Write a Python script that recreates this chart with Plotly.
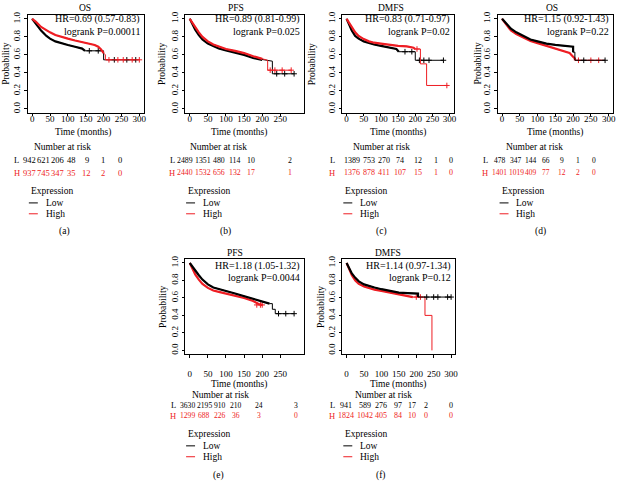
"""六联 Kaplan-Meier 生存曲线（OS / PFS / DMFS，Low 与 High 表达组）"""
import plotly.graph_objects as go

W, H = 618, 481
RED = "#EE1D23"
FONT = "Liberation Serif"

# ── 数据 ──
# (a) OS
a_low_t = [0, 10, 25, 40, 50, 65, 80, 100, 120, 140, 148, 175, 200, 200, 290]
a_low_s = [1.0, 0.95, 0.87, 0.81, 0.78, 0.75, 0.73, 0.71, 0.69, 0.67, 0.645, 0.645, 0.645, 0.545, 0.545]
a_high_t = [0, 10, 25, 40, 50, 65, 80, 100, 120, 140, 160, 175, 185, 193, 200, 205, 205, 300]
a_high_s = [1.0, 0.97, 0.91, 0.87, 0.85, 0.82, 0.80, 0.78, 0.76, 0.74, 0.72, 0.71, 0.69, 0.66, 0.62, 0.60, 0.545, 0.545]
a_low_cens_t = [160, 185, 230, 265, 290]
a_low_cens_s = [0.645, 0.645, 0.545, 0.545, 0.545]
a_high_cens_t = [215, 240, 255, 280, 300]
a_high_cens_s = [0.545, 0.545, 0.545, 0.545, 0.545]
a_risk_low = [942, 621, 206, 48, 9, 1, 0]
a_risk_high = [937, 745, 347, 35, 12, 2, 0]

# (b) PFS
b_low_t = [0, 5, 15, 25, 35, 50, 65, 80, 100, 125, 150, 175, 200, 228, 228, 288]
b_low_s = [1.0, 0.96, 0.88, 0.82, 0.77, 0.725, 0.695, 0.67, 0.65, 0.625, 0.60, 0.565, 0.545, 0.53, 0.39, 0.39]
b_high_t = [0, 5, 15, 25, 35, 50, 65, 80, 100, 125, 150, 175, 200, 215, 215, 280]
b_high_s = [1.0, 0.97, 0.90, 0.85, 0.80, 0.75, 0.715, 0.69, 0.665, 0.645, 0.62, 0.585, 0.555, 0.54, 0.43, 0.43]
b_low_cens_t = [240, 262, 288]
b_low_cens_s = [0.39, 0.39, 0.39]
b_high_cens_t = [222, 235, 255, 280]
b_high_cens_s = [0.43, 0.43, 0.43, 0.43]
b_risk_low = [2489, 1351, 480, 114, 10, 2]
b_risk_high = [2440, 1532, 656, 132, 17, 1]

# (c) DMFS
c_low_t = [0, 5, 15, 25, 35, 50, 65, 80, 100, 125, 145, 152, 200, 200, 282]
c_low_s = [1.0, 0.96, 0.87, 0.81, 0.78, 0.75, 0.73, 0.715, 0.70, 0.685, 0.665, 0.635, 0.635, 0.54, 0.54]
c_high_t = [0, 5, 15, 25, 35, 50, 65, 80, 100, 125, 150, 175, 195, 200, 215, 215, 233, 233, 292]
c_high_s = [1.0, 0.97, 0.90, 0.85, 0.81, 0.775, 0.75, 0.735, 0.725, 0.71, 0.70, 0.695, 0.68, 0.665, 0.665, 0.50, 0.50, 0.26, 0.26]
c_low_cens_t = [170, 190, 212, 225, 240, 282]
c_low_cens_s = [0.635, 0.635, 0.54, 0.54, 0.54, 0.54]
c_high_cens_t = [205, 292]
c_high_cens_s = [0.665, 0.26]
c_risk_low = [1389, 753, 270, 74, 12, 1, 0]
c_risk_high = [1376, 878, 411, 107, 15, 1, 0]

# (d) OS
d_low_t = [0, 10, 25, 40, 50, 65, 80, 100, 125, 150, 175, 195, 200, 200, 205, 205, 290]
d_low_s = [1.0, 0.96, 0.89, 0.85, 0.83, 0.80, 0.77, 0.75, 0.725, 0.71, 0.70, 0.69, 0.69, 0.63, 0.63, 0.54, 0.54]
d_high_t = [0, 10, 25, 40, 50, 65, 80, 100, 125, 150, 160, 175, 190, 200, 205, 205, 290]
d_high_s = [1.0, 0.95, 0.87, 0.83, 0.81, 0.78, 0.755, 0.73, 0.70, 0.675, 0.655, 0.64, 0.62, 0.58, 0.56, 0.54, 0.54]
d_low_cens_t = [230, 290]
d_low_cens_s = [0.54, 0.54]
d_high_cens_t = [215, 250, 272]
d_high_cens_s = [0.54, 0.54, 0.54]
d_risk_low = [478, 347, 144, 66, 9, 1, 0]
d_risk_high = [1401, 1019, 409, 77, 12, 2, 0]

# (e) PFS
e_low_t = [0, 5, 15, 25, 35, 50, 65, 80, 100, 125, 150, 175, 200, 220, 228, 228, 236, 236, 288]
e_low_s = [1.0, 0.97, 0.91, 0.86, 0.81, 0.755, 0.72, 0.70, 0.68, 0.65, 0.62, 0.595, 0.565, 0.535, 0.535, 0.47, 0.47, 0.42, 0.42]
e_high_t = [0, 5, 15, 25, 35, 50, 65, 80, 100, 125, 150, 175, 190, 200]
e_high_s = [1.0, 0.96, 0.87, 0.81, 0.76, 0.715, 0.685, 0.67, 0.65, 0.625, 0.60, 0.565, 0.53, 0.52]
e_low_cens_t = [245, 265, 288]
e_low_cens_s = [0.42, 0.42, 0.42]
e_high_cens_t = [185, 195, 200]
e_high_cens_s = [0.52, 0.52, 0.52]
e_risk_low = [3630, 2195, 910, 210, 24, 3]
e_risk_high = [1299, 688, 226, 36, 3, 0]

# (f) DMFS
f_low_t = [0, 5, 15, 25, 35, 50, 65, 80, 100, 125, 150, 175, 205, 205, 300]
f_low_s = [1.0, 0.96, 0.88, 0.83, 0.79, 0.755, 0.735, 0.72, 0.70, 0.68, 0.66, 0.655, 0.65, 0.61, 0.61]
f_high_t = [0, 5, 15, 25, 35, 50, 65, 80, 100, 125, 150, 175, 190, 225, 225, 245, 245]
f_high_s = [1.0, 0.95, 0.86, 0.80, 0.76, 0.73, 0.71, 0.695, 0.68, 0.66, 0.635, 0.62, 0.61, 0.61, 0.40, 0.40, 0.0]
f_low_cens_t = [230, 250, 262, 290, 300]
f_low_cens_s = [0.61, 0.61, 0.61, 0.61, 0.61]
f_high_cens_t = [200, 212]
f_high_cens_s = [0.61, 0.61]
f_risk_low = [941, 589, 276, 97, 17, 2, 0]
f_risk_high = [1824, 1042, 405, 84, 10, 0, 0]

titles = ["OS", "PFS", "DMFS", "OS", "PFS", "DMFS"]
hr_texts = ["HR=0.69 (0.57-0.83)", "HR=0.89 (0.81-0.99)", "HR=0.83 (0.71-0.97)",
            "HR=1.15 (0.92-1.43)", "HR=1.18 (1.05-1.32)", "HR=1.14 (0.97-1.34)"]
p_texts = ["logrank P=0.00011", "logrank P=0.025", "logrank P=0.02",
           "logrank P=0.22", "logrank P=0.0044", "logrank P=0.12"]
panel_tags = ["(a)", "(b)", "(c)", "(d)", "(e)", "(f)"]
x_ticks_300 = [0, 50, 100, 150, 200, 250, 300]
x_ticks_250 = [0, 50, 100, 150, 200, 250]
y_ticks = [0, 0.2, 0.4, 0.6, 0.8, 1.0]

# ── 版式（像素） ──
# x0: t=0 处像素, sx: 每月像素, xmax: 轴右端, row: 0 上排 / 1 下排
panels = [
    dict(curves=(a_low_t, a_low_s, a_high_t, a_high_s), cens=(a_low_cens_t, a_low_cens_s, a_high_cens_t, a_high_cens_s),
         risk=(a_risk_low, a_risk_high), ticks=x_ticks_300, x0=32.3, sx=0.359, xmax=312, row=0,
         dense=(148, 200), red_top=True, title_x=85, ylab_x=6, time_x=83, nar_x=63, letter_x=17,
         cols=[30, 44, 58, 72, 87, 103, 121], risk_size=8.5, leg_x=29, tag_x=65),
    dict(curves=(b_low_t, b_low_s, b_high_t, b_high_s), cens=(b_low_cens_t, b_low_cens_s, b_high_cens_t, b_high_cens_s),
         risk=(b_risk_low, b_risk_high), ticks=x_ticks_250, x0=190.7, sx=0.364, xmax=316, row=0,
         dense=(215, 212), red_top=True, title_x=237, ylab_x=163, time_x=240, nar_x=220, letter_x=173,
         cols=[186, 204, 220, 236, 252, 291], risk_size=7.8, leg_x=187, tag_x=227),
    dict(curves=(c_low_t, c_low_s, c_high_t, c_high_s), cens=(c_low_cens_t, c_low_cens_s, c_high_cens_t, c_high_cens_s),
         risk=(c_risk_low, c_risk_high), ticks=x_ticks_300, x0=348.3, sx=0.345, xmax=312, row=0,
         dense=(152, 200), red_top=True, title_x=393, ylab_x=313, time_x=400, nar_x=383, letter_x=334,
         cols=[354, 371, 386, 402, 420, 438, 453], risk_size=8, leg_x=345, tag_x=383),
    dict(curves=(d_low_t, d_low_s, d_high_t, d_high_s), cens=(d_low_cens_t, d_low_cens_s, d_high_cens_t, d_high_cens_s),
         risk=(d_risk_low, d_risk_high), ticks=x_ticks_300, x0=504.5, sx=0.357, xmax=312, row=0,
         dense=(200, 205), red_top=False, title_x=555, ylab_x=480, time_x=558, nar_x=537, letter_x=487.5,
         cols=[502, 519, 534, 549, 565, 581, 597], risk_size=7.5, leg_x=502, tag_x=543),
    dict(curves=(e_low_t, e_low_s, e_high_t, e_high_s), cens=(e_low_cens_t, e_low_cens_s, e_high_cens_t, e_high_cens_s),
         risk=(e_risk_low, e_risk_high), ticks=x_ticks_250, x0=190.7, sx=0.364, xmax=316, row=1,
         dense=(225, 200), red_top=False, title_x=236, ylab_x=163, time_x=240, nar_x=222, letter_x=174,
         cols=[188, 205, 221, 237, 260, 297], risk_size=7.6, leg_x=187, tag_x=220),
    dict(curves=(f_low_t, f_low_s, f_high_t, f_high_s), cens=(f_low_cens_t, f_low_cens_s, f_high_cens_t, f_high_cens_s),
         risk=(f_risk_low, f_risk_high), ticks=x_ticks_300, x0=348.3, sx=0.35, xmax=312, row=1,
         dense=(205, 190), red_top=False, title_x=390, ylab_x=322, time_x=400, nar_x=385, letter_x=334,
         cols=[348, 367, 383, 400, 414, 428, 453], risk_size=8, leg_x=345, tag_x=383),
]

# 每排的纵向位置：y=1.0 / y=0.0 像素，以及各行文字
rows = [
    dict(y1=15.0, y0=106.0, standoff=-5, title_y=4, hr_y=15.5, p_y=28, time_y=130, nar_y=144,
         low_y=158, high_y=170.5, exp_y=189, leg_low=201, leg_high=212, tag_y=230),
    dict(y1=261.7, y0=350.0, standoff=8, title_y=251.5, hr_y=264.5, p_y=276, time_y=385, nar_y=395.5,
         low_y=405.5, high_y=416, exp_y=434.5, leg_low=446.5, leg_high=457.5, tag_y=476),
]


def px(x):
    return x / W


def py(y):
    return 1 - y / H


fig = go.Figure()
annotations = []
shapes = []


def text(x, y, s, size=9.5, color="black", anchor="center"):
    annotations.append(dict(
        x=px(x), y=py(y), xref="paper", yref="paper", text=s, showarrow=False,
        xanchor=anchor, yanchor="middle", font=dict(family=FONT, size=size, color=color),
    ))


for i, p in enumerate(panels):
    n = "" if i == 0 else str(i + 1)
    r = rows[p["row"]]
    xa, ya = f"x{n}", f"y{n}"

    # ── 坐标轴 ──
    sy = r["y0"] - r["y1"]
    ytop = r["y1"] - 0.04 * sy
    ybot = r["y0"] + 0.04 * sy
    xl = p["x0"] - 12 * p["sx"]
    xr = p["x0"] + p["xmax"] * p["sx"]
    axis_style = dict(
        showline=True, mirror=True, linecolor="black", linewidth=0.8,
        ticks="outside", ticklen=3, tickwidth=0.8, tickcolor="black",
        showgrid=False, zeroline=False,
        tickfont=dict(family=FONT, size=9, color="black"),
    )
    fig.layout[f"xaxis{n}"] = dict(
        domain=[px(xl), px(xr)], range=[-12, p["xmax"]], anchor=ya,
        tickvals=p["ticks"], ticklabelstandoff=r["standoff"], **axis_style,
    )
    fig.layout[f"yaxis{n}"] = dict(
        domain=[py(ybot), py(ytop)], range=[-0.04, 1.04], anchor=xa,
        tickvals=y_ticks, ticktext=[f"{v:.1f}" for v in y_ticks], tickangle=-90,
        **axis_style,
    )

    # ── 生存曲线 ──
    lt, ls, ht, hs = p["curves"]
    lct, lcs, hct, hcs = p["cens"]
    groups = [(lt, ls, lct, lcs, "black", p["dense"][0]), (ht, hs, hct, hcs, RED, p["dense"][1])]
    if not p["red_top"]:
        groups = groups[::-1]
    for t, s, ct, cs, color, dense_end in groups:
        fig.add_trace(go.Scatter(
            x=t, y=s, mode="lines", line=dict(color=color, width=1),
            xaxis=xa, yaxis=ya, showlegend=False, hoverinfo="skip",
        ))
        k = sum(1 for v in t if v <= dense_end)
        fig.add_trace(go.Scatter(
            x=t[:k], y=s[:k], mode="lines", line=dict(color=color, width=2.2),
            xaxis=xa, yaxis=ya, showlegend=False, hoverinfo="skip",
        ))
        fig.add_trace(go.Scatter(
            x=ct, y=cs, mode="markers",
            marker=dict(symbol="cross-thin", size=4, line=dict(color=color, width=1)),
            xaxis=xa, yaxis=ya, showlegend=False, hoverinfo="skip",
        ))

    # ── 文字 ──
    text(p["title_x"], r["title_y"], titles[i])
    text(xr - 2, r["hr_y"], hr_texts[i], size=10, anchor="right")
    text(xr - 2, r["p_y"], p_texts[i], size=10, anchor="right")
    annotations.append(dict(
        x=px(p["ylab_x"]), y=py((ytop + ybot) / 2), xref="paper", yref="paper",
        text="Probability", showarrow=False, textangle=-90,
        xanchor="center", yanchor="middle",
        font=dict(family=FONT, size=9.5, color="black"),
    ))
    text(p["time_x"], r["time_y"], "Time (months)")
    text(p["nar_x"], r["nar_y"], "Number at risk")

    # ── 风险人数表 ──
    low, high = p["risk"]
    text(p["letter_x"], r["low_y"], "L", size=8.5)
    text(p["letter_x"], r["high_y"], "H", size=8.5, color=RED)
    for cx, lv, hv in zip(p["cols"], low, high):
        text(cx, r["low_y"], str(lv), size=p["risk_size"])
        text(cx, r["high_y"], str(hv), size=p["risk_size"], color=RED)

    # ── 图例 ──
    lx = p["leg_x"]
    text(lx, r["exp_y"], "Expression", anchor="left")
    for yy, lab, color in [(r["leg_low"], "Low", "black"), (r["leg_high"], "High", RED)]:
        shapes.append(dict(
            type="line", xref="paper", yref="paper",
            x0=px(lx), x1=px(lx + 9), y0=py(yy), y1=py(yy),
            line=dict(color=color, width=1),
        ))
        text(lx + 15, yy, lab, anchor="left")

    text(p["tag_x"], r["tag_y"], panel_tags[i])

fig.update_layout(
    width=W, height=H,
    margin=dict(l=0, r=0, t=0, b=0),
    paper_bgcolor="white", plot_bgcolor="white",
    annotations=annotations, shapes=shapes,
    font=dict(family=FONT, color="black"),
)

# 去掉页面默认边距，使图表贴齐窗口
fig.write_html(
    "out.html",
    config={"displayModeBar": False},
    post_script="document.body.style.margin='0';",
)
